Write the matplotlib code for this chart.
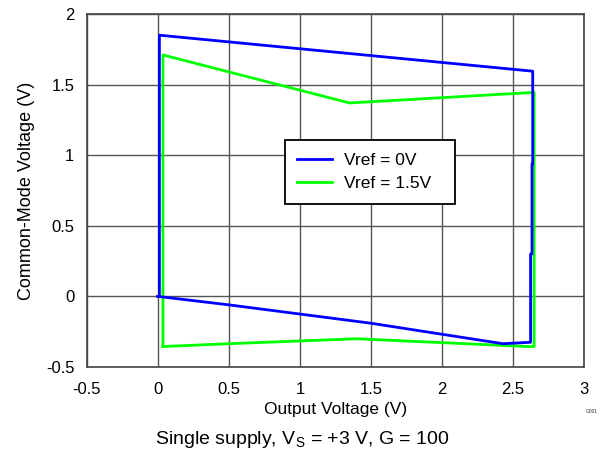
import matplotlib.pyplot as plt
import numpy as np

plt.rcParams['font.family'] = ['Liberation Sans', 'DejaVu Sans']

# loop traces (output voltage, common-mode voltage)
vout_ref0 = [0.0, 0.01, 0.01, 2.64, 2.64, 2.635, 2.635, 2.625, 2.625, 2.43, 1.5, 0.5, 0.0]
vcm_ref0 = [0.0, 0.0, 1.85, 1.595, 0.94, 0.94, 0.30, 0.30, -0.325, -0.335, -0.19, -0.06, 0.0]

vout_ref15 = [0.035, 0.035, 1.35, 2.65, 2.65, 2.6, 1.4, 0.5, 0.035]
vcm_ref15 = [-0.355, 1.71, 1.37, 1.445, -0.355, -0.355, -0.30, -0.335, -0.355]

xticks = [-0.5, 0, 0.5, 1, 1.5, 2, 2.5, 3]
yticks = [-0.5, 0, 0.5, 1, 1.5, 2]
xtick_labels = ['-0.5', '0', '0.5', '1', '1.5', '2', '2.5', '3']
ytick_labels = ['-0.5', '0', '0.5', '1', '1.5', '2']

fig = plt.figure(figsize=(6.05, 4.58), dpi=100)
ax = fig.add_axes([0.1438, 0.1987, 0.8212, 0.7707])

ax.plot(vout_ref0, vcm_ref0, color='#0000ff', lw=2, label='Vref = 0V', zorder=3)
ax.plot(vout_ref15, vcm_ref15, color='#00ff00', lw=2, label='Vref = 1.5V', zorder=2)

ax.set_xlim(-0.5, 3)
ax.set_ylim(-0.5, 2)
ax.set_xticks(xticks)
ax.set_xticklabels(xtick_labels)
ax.set_yticks(yticks)
ax.set_yticklabels(ytick_labels)
ax.tick_params(labelsize=12, length=0)
ax.tick_params(axis='x', pad=10.5)
ax.tick_params(axis='y', pad=9)
ax.grid(True, color='#555555', lw=1)
ax.set_axisbelow(True)
for s in ax.spines.values():
    s.set_color('#444444')
    s.set_linewidth(1.2)

ax.set_xlabel('Output Voltage (V)', fontsize=12.5, labelpad=4)
ax.set_ylabel('Common-Mode Voltage (V)', fontsize=13, labelpad=8)

leg = ax.legend(loc='lower left', bbox_to_anchor=(0.398, 0.462, 0.342, 0.18),
                mode='expand', borderaxespad=0, fontsize=12.5, fancybox=False,
                framealpha=1, edgecolor='black', handlelength=2.0,
                borderpad=0.72, labelspacing=0.47, handletextpad=0.7)
leg.get_frame().set_linewidth(1.3)

fig.text(0.978, 0.098, 'G001', fontsize=3.5, ha='center', color='#333333')
fig.text(0.5, 0.04, 'Single supply, V$_\\mathregular{S}$ = +3 V, G = 100',
         fontsize=14, ha='center', va='center')

plt.savefig('out.png', dpi=100)
